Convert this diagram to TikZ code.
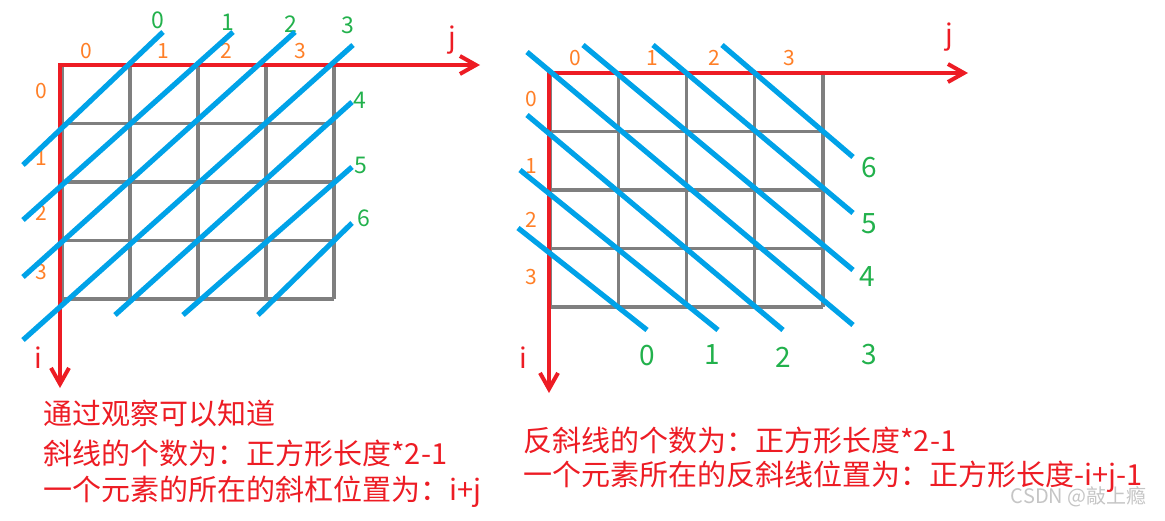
\documentclass[tikz,border=0pt]{standalone}
\usepackage{fontspec}
\setmainfont{Noto Sans CJK SC}
\usetikzlibrary{arrows.meta}
\definecolor{cred}{HTML}{ED1C24}
\definecolor{cblue}{HTML}{00A2E8}
\definecolor{cgrey}{HTML}{7F7F7F}
\definecolor{corange}{HTML}{FF7F27}
\definecolor{cgreen}{HTML}{22B14C}
\tikzset{
  axis/.style={draw=cred, line width=2pt, -{Straight Barb[length=8pt, width=9pt]}},
  cell/.style={draw=cgrey, line width=1.6pt},
  diag/.style={draw=cblue, line width=2.6pt},
  idx/.style={text=corange, font=\fontsize{10.5}{12}\selectfont, inner sep=0pt},
  num/.style={text=cgreen, font=\fontsize{#1}{15}\selectfont, inner sep=0pt},
  num/.default=11.5,
  axname/.style={text=cred, font=\fontsize{14}{16}\selectfont, inner sep=0pt},
  note/.style={text=cred, font=\fontsize{14.5}{17}\selectfont, anchor=west, inner sep=0pt},
}

\begin{document}
\begin{tikzpicture}[x=0.5pt, y=-0.5pt]
  \useasboundingbox (0,0) rectangle (1165,520);
  % left grid: the diagonals i+j
  \foreach \k in {0,...,4} {
    \draw[cell] (62+68*\k,65) -- (62+68*\k,299);
    \draw[cell] (62,65+58.5*\k) -- (334,65+58.5*\k);
  }
  \coordinate (oL) at (60,63);
  \coordinate (jL) at (480,65);
  \coordinate (iL) at (60,388);
  \draw[axis] (oL |- jL) ++(-1,0) -- (jL);
  \draw[axis] (oL) -- (iL);
  \node[axname] (jl) at (452,40) {j};
  \node[axname] (il) at (38,358) {i};
  \foreach \n/\x in {0/86, 1/163, 2/226, 3/300}
    \node[idx] (colL\n) at (\x,51) {\n};
  \foreach \n/\y in {0/91, 1/158, 2/213, 3/272}
    \node[idx] (rowL\n) at (41,\y) {\n};
  \foreach \n/\x/\y in {0/158/20, 1/228/22, 2/291/24, 3/348/25, 4/360/100, 5/361/165, 6/364/218}
    \node[num] (diagL\n) at (\x,\y) {\n};
  \foreach \a/\b/\c/\d in {23/165/163/32, 23/220/233/32, 23/277/295/32, 23/340/353/45,
                           115/315/352/102, 183/315/352/167, 258/315/352/223}
    \draw[diag] (\a,\b) -- (\c,\d);
  % right grid: the anti-diagonals
  \foreach \k in {0,...,4} {
    \draw[cell] (550+68.25*\k,73) -- (550+68.25*\k,307);
    \draw[cell] (550,73+58.5*\k) -- (823,73+58.5*\k);
  }
  \coordinate (oR) at (549,71);
  \coordinate (jR) at (968,73);
  \coordinate (iR) at (549,393);
  \draw[axis] (oR |- jR) ++(-1,0) -- (jR);
  \draw[axis] (oR) -- (iR);
  \node[axname] (jr) at (949,37) {j};
  \node[axname] (ir) at (523,358) {i};
  \foreach \n/\x in {0/575, 1/652, 2/714, 3/789}
    \node[idx] (colR\n) at (\x,58) {\n};
  \foreach \n/\y in {0/99, 1/166, 2/220, 3/277}
    \node[idx] (rowR\n) at (531,\y) {\n};
  \foreach \n/\x/\y in {0/647/356, 1/712/355, 2/783/357, 3/869/355, 4/867/277, 5/869/224, 6/869/168}
    \node[num=14] (diagR\n) at (\x,\y) {\n};
  \foreach \a/\b/\c/\d in {518/228/647/330, 520/170/718/330, 527/115/783/330, 527/52/853/325,
                           583/45/853/270, 653/45/853/213, 722/45/853/157}
    \draw[diag] (\a,\b) -- (\c,\d);
  % the notes under both grids
  \node[note] (obs) at (43,413) {通过观察可以知道};
  \node[note] (cntL) at (43,453) {斜线的个数为：正方形长度*2-1};
  \node[note] (posL) at (43,492) {一个元素的所在的斜杠位置为：i+j};
  \node[note] (cntR) at (523,440) {反斜线的个数为：正方形长度*2-1};
  \node[note] (posR) at (523,477) {一个元素所在的反斜线位置为：正方形长度-i+j-1};
  \node[text=cgrey!45, font=\fontsize{10}{11}\selectfont, anchor=east, inner sep=0pt] (mark) at (1147,497) {CSDN @敲上瘾};
\end{tikzpicture}
\end{document}
